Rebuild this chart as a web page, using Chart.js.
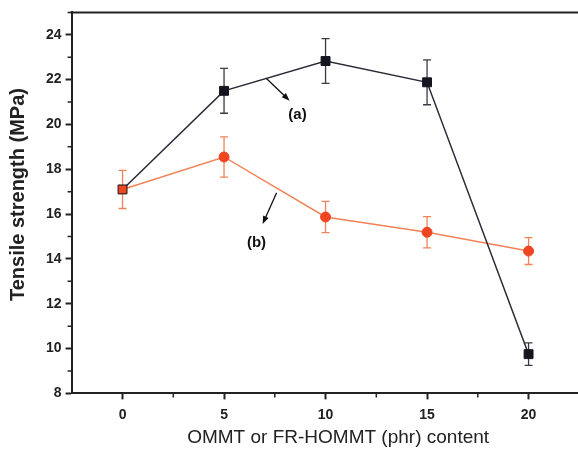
<!DOCTYPE html>
<html>
<head>
<meta charset="utf-8">
<script src="https://cdn.jsdelivr.net/npm/chart.js@4.4.1/dist/chart.umd.min.js"></script>
<style>
  html, body { margin: 0; padding: 0; background: #fff; overflow: hidden; }
  #wrap { width: 612px; height: 449px; position: relative; }
</style>
</head>
<body>
<div id="wrap"><canvas id="myChart"></canvas></div>
<script>
"use strict";

// x values (phr content) and tick labels
var content = [0, 5, 10, 15, 20];
var xTicks = [0, 5, 10, 15, 20];
var yTicks = [8, 10, 12, 14, 16, 18, 20, 22, 24];

// (a) OMMT, (b) FR-HOMMT  - tensile strength, MPa
var strengthA = [17.1, 21.5, 22.83, 21.88, 9.75];
var errorA = [0.85, 1.0, 1.0, 1.0, 0.5];
var strengthB = [17.1, 18.55, 15.87, 15.19, 14.35];
var errorB = [0.85, 0.9, 0.7, 0.7, 0.6];

// arrow labels: [fromX, fromY, toX, toY, textX, textY, text]
var arrowA = [7.09, 22.05, 8.23, 21.06, 8.62, 20.45, "(a)"];
var arrowB = [7.59, 16.95, 6.90, 15.56, 6.60, 14.72, "(b)"];

var BLACK = "#15151f";
var ORANGE = "#ef4622";
var ORANGE_LINE = "#f08358";

function toPoints(xs, ys) {
	var pts = [];
	for (var i = 0; i < xs.length; i = i + 1) {
		pts.push({x: xs[i], y: ys[i]});
	}
	return pts;
}

// error bars, minor ticks, top spine and arrows
var extras = {
	id: "extras",
	beforeDatasetsDraw: function (chart) {
		var ctx = chart.ctx;
		var xs = chart.scales.x, ys = chart.scales.y;

		// from: first index to draw
		function bars(vals, errs, color, from) {
			ctx.save();
			ctx.strokeStyle = color;
			ctx.lineWidth = 1.3;
			for (var i = from; i < vals.length; i = i + 1) {
				var px = xs.getPixelForValue(content[i]);
				var top = ys.getPixelForValue(vals[i] + errs[i]);
				var bot = ys.getPixelForValue(vals[i] - errs[i]);
				ctx.beginPath();
				ctx.moveTo(px, top); ctx.lineTo(px, bot);
				ctx.moveTo(px - 4, top); ctx.lineTo(px + 4, top);
				ctx.moveTo(px - 4, bot); ctx.lineTo(px + 4, bot);
				ctx.stroke();
			}
			ctx.restore();
		}
		bars(strengthA, errorA, "#3a3a48", 1);
		bars(strengthB, errorB, ORANGE_LINE, 0);
	},
	afterDatasetsDraw: function (chart) {
		var ctx = chart.ctx;
		var xs = chart.scales.x, ys = chart.scales.y;
		var area = chart.chartArea;

		// top spine
		ctx.save();
		ctx.strokeStyle = "#222";
		ctx.lineWidth = 2;
		ctx.beginPath();
		ctx.moveTo(area.left - 1, area.top);
		ctx.lineTo(area.right, area.top);
		ctx.stroke();

		// minor ticks
		ctx.lineWidth = 1.5;
		ctx.beginPath();
		for (var v = 2.5; v <= xs.max; v = v + 5) {
			var mx = xs.getPixelForValue(v);
			ctx.moveTo(mx, area.bottom);
			ctx.lineTo(mx, area.bottom + 4);
		}
		for (var w = 9; w <= ys.max; w = w + 2) {
			var my = ys.getPixelForValue(w);
			ctx.moveTo(area.left, my);
			ctx.lineTo(area.left - 4, my);
		}
		ctx.stroke();
		ctx.restore();

		function arrow(a) {
			var x1 = xs.getPixelForValue(a[0]), y1 = ys.getPixelForValue(a[1]);
			var x2 = xs.getPixelForValue(a[2]), y2 = ys.getPixelForValue(a[3]);
			var ang = Math.atan2(y2 - y1, x2 - x1);
			ctx.save();
			ctx.strokeStyle = "#111";
			ctx.fillStyle = "#111";
			ctx.lineWidth = 1.3;
			ctx.beginPath();
			ctx.moveTo(x1, y1);
			ctx.lineTo(x2 - 5 * Math.cos(ang), y2 - 5 * Math.sin(ang));
			ctx.stroke();
			ctx.beginPath();
			ctx.moveTo(x2, y2);
			ctx.lineTo(x2 - 8 * Math.cos(ang) + 3 * Math.sin(ang), y2 - 8 * Math.sin(ang) - 3 * Math.cos(ang));
			ctx.lineTo(x2 - 8 * Math.cos(ang) - 3 * Math.sin(ang), y2 - 8 * Math.sin(ang) + 3 * Math.cos(ang));
			ctx.closePath();
			ctx.fill();
			ctx.font = "bold 15px 'Liberation Sans', Arial, sans-serif";
			ctx.textAlign = "center";
			ctx.textBaseline = "middle";
			ctx.fillText(a[6], xs.getPixelForValue(a[4]), ys.getPixelForValue(a[5]));
			ctx.restore();
		}
		arrow(arrowA);
		arrow(arrowB);
	}
};

function buildChart() {
	var ctx = document.getElementById("myChart");
	Chart.defaults.font.family = "'Liberation Sans', Arial, sans-serif";
	Chart.defaults.color = "#222";
	new Chart(ctx, {
		type: "line",
		data: {
			datasets: [
				{
					label: "(a)",
					data: toPoints(content, strengthA),
					borderColor: "#2a2a38",
					borderWidth: 1.5,
					pointStyle: "rect",
					pointRadius: 6.3,
					pointBackgroundColor: [ORANGE, BLACK, BLACK, BLACK, BLACK],
					pointBorderColor: BLACK,
					pointBorderWidth: 1,
					fill: false,
					order: 1
				},
				{
					label: "(b)",
					data: toPoints(content, strengthB),
					borderColor: ORANGE_LINE,
					borderWidth: 1.5,
					pointStyle: "circle",
					pointRadius: [0, 5, 5, 5, 5],
					pointBackgroundColor: ORANGE,
					pointBorderColor: ORANGE,
					pointBorderWidth: 1,
					fill: false,
					order: 2
				}
			]
		},
		options: {
			responsive: true,
			maintainAspectRatio: false,
			animation: false,
			layout: {padding: {top: 11, right: 2, bottom: 4, left: 6}},
			plugins: {legend: {display: false}, tooltip: {enabled: false}},
			scales: {
				x: {
					type: "linear",
					min: -2.51,
					max: 23.75,
					afterBuildTicks: function (scale) {
						scale.ticks = xTicks.map(function (v) { return {value: v}; });
					},
					grid: {drawOnChartArea: false, drawTicks: true, tickLength: 6, tickWidth: 2, tickColor: "#222"},
					border: {display: true, color: "#222", width: 2},
					ticks: {font: {size: 14, weight: "bold"}, padding: 7, color: "#222"},
					title: {display: true, text: "OMMT or FR-HOMMT (phr) content", font: {size: 19, lineHeight: 0.78}, padding: {top: 0, bottom: 0}, color: "#222"}
				},
				y: {
					type: "linear",
					min: 8,
					max: 25,
					afterBuildTicks: function (scale) {
						scale.ticks = yTicks.map(function (v) { return {value: v}; });
					},
					grid: {drawOnChartArea: false, drawTicks: true, tickLength: 6, tickWidth: 2, tickColor: "#222"},
					border: {display: true, color: "#222", width: 2},
					ticks: {font: {size: 14, weight: "bold"}, padding: 4, color: "#222"},
					title: {display: true, text: "   Tensile strength (MPa)", font: {size: 20, weight: "bold"}, padding: {top: 0, bottom: 12}, color: "#222"}
				}
			}
		},
		plugins: [extras]
	});
}

buildChart();
</script>
</body>
</html>
